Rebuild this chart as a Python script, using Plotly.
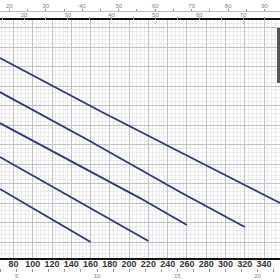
import plotly.graph_objects as go

# Flow (l/min) and head values, one list per curve
flow_1 = [66.0, 169.8, 252.8, 356.6]
head_1 = [22.87, 17.44, 13.23, 8.0]
flow_2 = [66.0, 157.3, 252.8, 320.0]
head_2 = [19.38, 14.46, 9.13, 5.54]
flow_3 = [66.0, 211.3, 260.0]
head_3 = [16.2, 8.51, 5.74]
flow_4 = [66.0, 185.4, 220.0]
head_4 = [12.72, 6.05, 4.1]
flow_5 = [66.0, 117.9, 160.0]
head_5 = [9.44, 6.42, 4.0]

lpm_ticks = list(range(80, 341, 20))
usgpm_ticks = list(range(20, 95, 5))
igpm_ticks = list(range(15, 80, 5))
m3h_ticks = list(range(4, 22))

X_RANGE = [66.0, 356.6]
Y_RANGE = [2.36, 26.77]
US_GAL = 3.785
IMP_GAL = 4.546
M3H = 16.667

LINE_COLOR = "#2d3c78"
fig = go.Figure()
for fx, hy in [(flow_1, head_1), (flow_2, head_2), (flow_3, head_3), (flow_4, head_4), (flow_5, head_5)]:
    fig.add_trace(go.Scatter(x=fx, y=hy, mode="lines", line=dict(color=LINE_COLOR, width=1.9),
                             showlegend=False, hoverinfo="skip", xaxis="x", yaxis="y"))
for ax in ["x2", "x3", "x4"]:
    fig.add_trace(go.Scatter(x=[], y=[], mode="lines", showlegend=False, xaxis=ax, yaxis="y"))

top = 1 - 20 / 280
bot = 22 / 280
small_font = dict(family="Liberation Sans, Arial, sans-serif", size=6, color="#808080")

fig.update_layout(
    width=280, height=280,
    margin=dict(l=0, r=0, t=0, b=0),
    paper_bgcolor="white", plot_bgcolor="white",
    xaxis=dict(range=X_RANGE, domain=[0, 1], anchor="y",
               tickvals=lpm_ticks, ticktext=[str(v) for v in lpm_ticks],
               tickfont=dict(family="Liberation Sans Narrow, Arial Narrow, sans-serif", size=9,
                             color="#333333", weight="bold"),
               ticks="", ticklabelstandoff=-4,
               showline=True, linecolor="#111111", linewidth=2, mirror=True,
               showgrid=True, gridcolor="#c2c2c4", gridwidth=1,
               minor=dict(tick0=0, dtick=4, showgrid=True, gridcolor="#ebebef", gridwidth=1),
               zeroline=False),
    yaxis=dict(range=Y_RANGE, domain=[bot, top], showticklabels=False, ticks="",
               tick0=0, dtick=2, showgrid=True, gridcolor="#c2c2c4", gridwidth=1,
               minor=dict(tick0=0, dtick=0.4, showgrid=True, gridcolor="#ebebef", gridwidth=1),
               showline=False, zeroline=False),
    xaxis2=dict(range=[X_RANGE[0] / US_GAL, X_RANGE[1] / US_GAL], overlaying="x", side="top",
                anchor="free", position=1 - 11 / 280,
                tickvals=usgpm_ticks, ticktext=[str(v) if v % 10 == 0 else "" for v in usgpm_ticks],
                ticks="outside", ticklen=2, tickcolor="#999999", tickfont=small_font,
                ticklabelstandoff=-1,
                showline=True, linecolor="#c0c0c0", linewidth=1, showgrid=False, zeroline=False),
    xaxis3=dict(range=[X_RANGE[0] / IMP_GAL, X_RANGE[1] / IMP_GAL], overlaying="x", side="top",
                anchor="free", position=top,
                tickvals=igpm_ticks, ticktext=[str(v) if v % 10 == 0 else "" for v in igpm_ticks],
                ticks="outside", ticklen=3, tickcolor="#999999", tickfont=small_font,
                ticklabelstandoff=-2,
                showline=False, showgrid=False, zeroline=False),
    xaxis4=dict(range=[X_RANGE[0] / M3H, X_RANGE[1] / M3H], overlaying="x", side="bottom",
                anchor="free", position=12 / 280,
                tickvals=m3h_ticks, ticktext=[str(v) if v % 5 == 0 else "" for v in m3h_ticks],
                ticks="outside", ticklen=3, tickcolor="#999999", tickfont=small_font,
                ticklabelstandoff=-1,
                showline=False, showgrid=False, zeroline=False),
    shapes=[dict(type="rect", xref="paper", yref="paper", x0=277 / 280, x1=1.0,
                 y0=1 - 83 / 280, y1=1 - 28 / 280, fillcolor="#555555", line=dict(width=0), layer="above")],
)
fig.write_html("out.html")
